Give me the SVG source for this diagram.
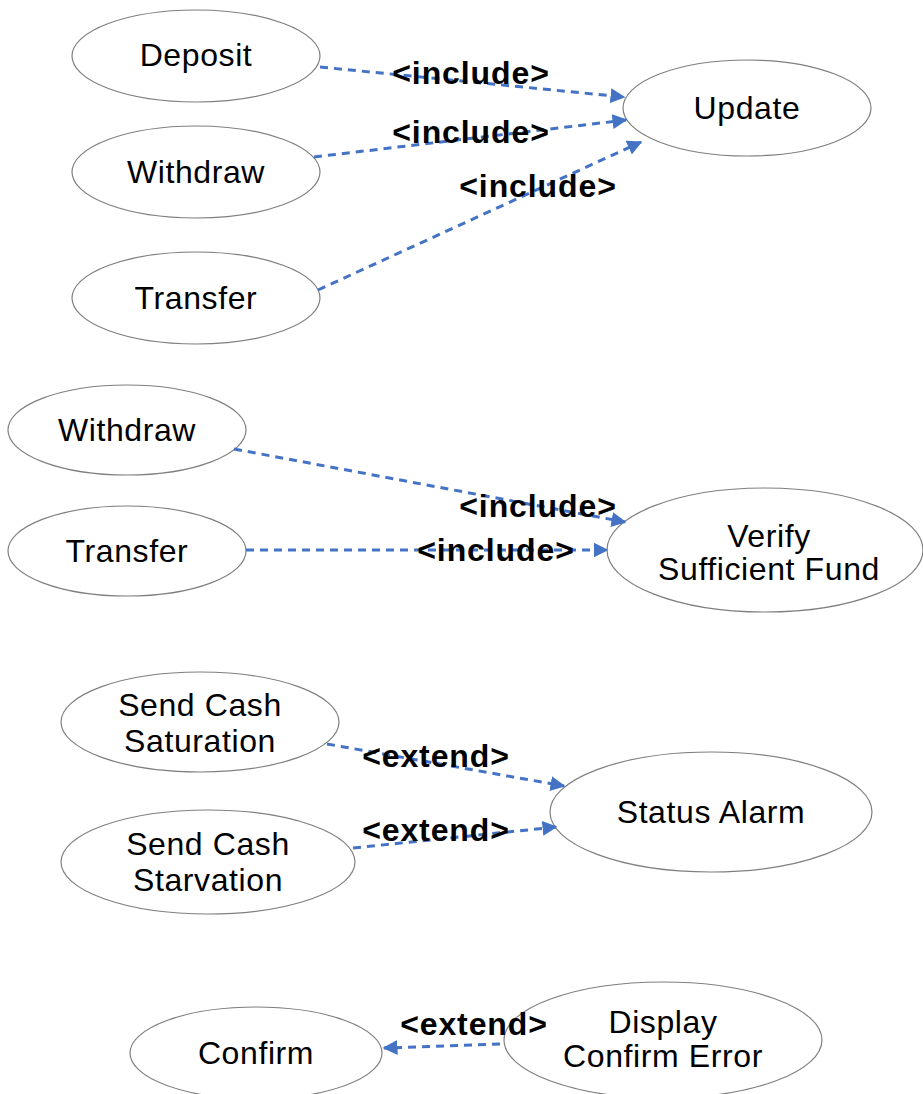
<svg xmlns="http://www.w3.org/2000/svg" width="923" height="1094" viewBox="0 0 923 1094">
<defs>
<marker id="arr" viewBox="0 0 10 10" refX="9" refY="5" markerWidth="5" markerHeight="5" orient="auto" markerUnits="strokeWidth">
<path d="M0,0 L10,5 L0,10 z" fill="#4472C4"/>
</marker>
</defs>
<style>
.n ellipse{fill:#fff;stroke:#7f7f7f;stroke-width:1.2}
.n text{font-family:"Liberation Sans",Arial,sans-serif;font-size:32px;letter-spacing:0.6px;fill:#000;text-anchor:middle}
.c line{stroke:#4472C4;stroke-width:3;stroke-dasharray:8 6;marker-end:url(#arr)}
.lbl{font-family:"Liberation Sans",Arial,sans-serif;font-size:32px;letter-spacing:0.9px;font-weight:bold;fill:#000;text-anchor:middle}
</style>
<rect width="923" height="1094" fill="#fff"/>
<g id="deposit" class="n"><ellipse cx="196" cy="56" rx="124" ry="46"/><text x="196" y="66">Deposit</text></g>
<g id="withdraw1" class="n"><ellipse cx="196" cy="172" rx="124" ry="46"/><text x="196" y="183">Withdraw</text></g>
<g id="transfer1" class="n"><ellipse cx="196" cy="298" rx="124" ry="46"/><text x="196" y="309">Transfer</text></g>
<g id="update" class="n"><ellipse cx="747" cy="108" rx="124" ry="48"/><text x="747" y="119">Update</text></g>
<g id="withdraw2" class="n"><ellipse cx="127" cy="430" rx="119" ry="45"/><text x="127" y="441">Withdraw</text></g>
<g id="transfer2" class="n"><ellipse cx="127" cy="551" rx="119" ry="45"/><text x="127" y="562">Transfer</text></g>
<g id="verify" class="n"><ellipse cx="765" cy="550" rx="158" ry="62"/><text x="769" y="547">Verify</text><text x="769" y="580">Sufficient Fund</text></g>
<g id="saturation" class="n"><ellipse cx="200" cy="722" rx="139" ry="50"/><text x="200" y="716">Send Cash</text><text x="200" y="752">Saturation</text></g>
<g id="starvation" class="n"><ellipse cx="208" cy="862" rx="147" ry="52"/><text x="208" y="855">Send Cash</text><text x="208" y="891">Starvation</text></g>
<g id="status" class="n"><ellipse cx="711" cy="812" rx="161" ry="60"/><text x="711" y="823">Status Alarm</text></g>
<g id="confirm" class="n"><ellipse cx="256" cy="1053" rx="126" ry="46"/><text x="256" y="1064">Confirm</text></g>
<g id="display" class="n"><ellipse cx="663" cy="1040" rx="159" ry="58"/><text x="663" y="1033">Display</text><text x="663" y="1067">Confirm Error</text></g>
<g id="connectors" class="c">
<line x1="320" y1="67" x2="624" y2="97"/>
<line x1="314" y1="157" x2="626" y2="120"/>
<line x1="318" y1="290" x2="641" y2="142"/>
<line x1="234" y1="449" x2="625" y2="522"/>
<line x1="246" y1="550" x2="607" y2="550"/>
<line x1="327" y1="744" x2="564" y2="786"/>
<line x1="353" y1="848" x2="556" y2="827"/>
<line x1="500" y1="1044" x2="384" y2="1048"/>
</g>
<g id="labels">
<text class="lbl" x="471" y="84">&lt;include&gt;</text>
<text class="lbl" x="471" y="143">&lt;include&gt;</text>
<text class="lbl" x="538" y="197">&lt;include&gt;</text>
<text class="lbl" x="538" y="517">&lt;include&gt;</text>
<text class="lbl" x="496" y="561">&lt;include&gt;</text>
<text class="lbl" x="436" y="767">&lt;extend&gt;</text>
<text class="lbl" x="436" y="841">&lt;extend&gt;</text>
<text class="lbl" x="474" y="1035">&lt;extend&gt;</text>
</g>
</svg>
